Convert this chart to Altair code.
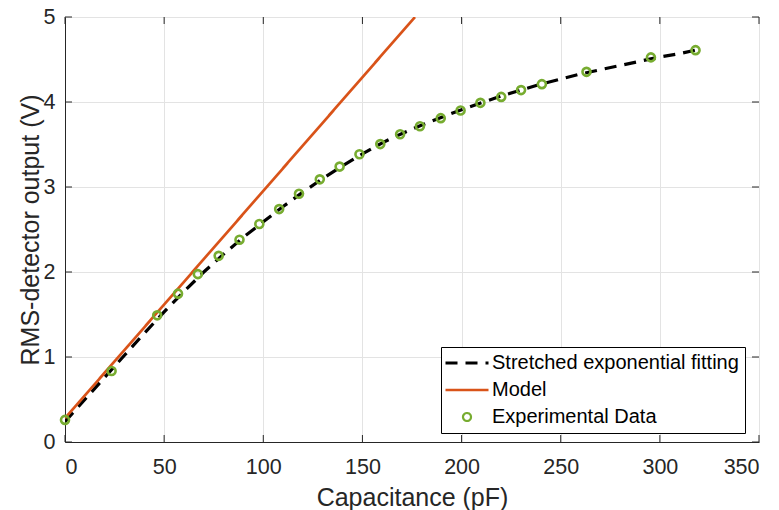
import altair as alt
import pandas as pd

# Experimental data
cap_data = [0, 23.5, 46.5, 57, 67, 77.5, 88, 98, 108, 118, 128.5, 138.5, 148.5, 159, 169,
            179, 189.5, 199.5, 209.5, 220, 230, 240.5, 263, 295.5, 318]
v_data = [0.26, 0.835, 1.49, 1.745, 1.975, 2.19, 2.38, 2.565, 2.74, 2.92, 3.09, 3.24, 3.385,
          3.505, 3.62, 3.715, 3.81, 3.90, 3.99, 4.06, 4.14, 4.21, 4.355, 4.525, 4.61]

# Stretched exponential fitting curve
cap_fit = [0, 10, 20, 30, 40, 50, 60, 70, 80, 90, 100, 110, 120, 130, 140, 150, 160, 170,
           180, 190, 200, 210, 220, 230, 240, 250, 260, 270, 280, 290, 300, 310, 318]
v_fit = [0.24, 0.50, 0.76, 1.02, 1.28, 1.53, 1.77, 2.00, 2.21, 2.41, 2.59, 2.77, 2.94, 3.10,
         3.25, 3.39, 3.52, 3.63, 3.73, 3.82, 3.91, 3.99, 4.07, 4.14, 4.21, 4.27, 4.33, 4.38,
         4.43, 4.48, 4.53, 4.57, 4.61]

# Model (linear)
cap_model = [0, 176.5]
v_model = [0.28, 5.0]

series_names = ["Stretched exponential fitting", "Model", "Experimental Data"]
series_colors = ["#000000", "#D95319", "#77AC30"]

x_ticks = [0, 50, 100, 150, 200, 250, 300, 350]
y_ticks = [0, 1, 2, 3, 4, 5]

W, H = 694, 425
FONT = "Liberation Sans"
AX = "#262626"
LINE_SYMBOL = "M-5.375,0H5.375"

lines_df = pd.concat([
    pd.DataFrame({"C": cap_fit, "V": v_fit, "series": series_names[0], "order": range(len(cap_fit))}),
    pd.DataFrame({"C": cap_model, "V": v_model, "series": series_names[1], "order": range(len(cap_model))}),
])
points_df = pd.DataFrame({"C": cap_data, "V": v_data, "series": series_names[2]})

xscale = alt.Scale(domain=[0, 350], nice=False, zero=False)
yscale = alt.Scale(domain=[0, 5], nice=False, zero=False)

x_axis = alt.Axis(values=x_ticks, title="Capacitance (pF)", grid=True, ticks=False,
                  format="d", labelPadding=31, labelBaseline="alphabetic", labelFontSize=21.5,
                  titleFontSize=25, titleFontWeight="normal", titleY=63,
                  titleBaseline="alphabetic", labelColor=AX, titleColor=AX,
                  domainColor=AX, gridColor="#e3e3e3", labelFont=FONT, titleFont=FONT)
y_axis = alt.Axis(values=y_ticks, title="RMS-detector output (V)", grid=True, ticks=False,
                  format="d", labelPadding=10, labelFontSize=21.5, titleFontSize=25,
                  titleFontWeight="normal", titleX=-27, titleY=H / 2, titleAngle=270,
                  titleBaseline="alphabetic", titleAlign="center", labelColor=AX,
                  titleColor=AX, domainColor=AX, gridColor="#e3e3e3", labelFont=FONT,
                  titleFont=FONT)

color_scale = alt.Scale(domain=series_names, range=series_colors)
legend = alt.Legend(title=None, orient="none", legendX=376, legendY=330, padding=6,
                    rowPadding=7, strokeColor="#000000", fillColor="#ffffff",
                    labelFontSize=20, labelFont=FONT, labelColor="#000000", labelOffset=15,
                    symbolOffset=10, symbolSize=64, symbolStrokeWidth=2.5, labelLimit=400)

lines = alt.Chart(lines_df).mark_line(clip=True).encode(
    x=alt.X("C:Q", scale=xscale, axis=x_axis),
    y=alt.Y("V:Q", scale=yscale, axis=y_axis),
    color=alt.Color("series:N", scale=color_scale, legend=legend),
    strokeDash=alt.StrokeDash("series:N", scale=alt.Scale(domain=series_names,
                              range=[[12, 8], [1, 0], [1, 0]]), legend=legend),
    strokeWidth=alt.StrokeWidth("series:N", scale=alt.Scale(domain=series_names,
                                range=[3.2, 2.2, 2.2]), legend=None),
    order="order:Q",
)

points = alt.Chart(points_df).mark_point(filled=False, strokeWidth=2.6, size=64, opacity=1).encode(
    x=alt.X("C:Q", scale=xscale),
    y=alt.Y("V:Q", scale=yscale),
    color=alt.Color("series:N", scale=color_scale, legend=legend),
    shape=alt.Shape("series:N", scale=alt.Scale(domain=series_names,
                    range=[LINE_SYMBOL, LINE_SYMBOL, "circle"]), legend=legend),
)

tick_x_df = pd.DataFrame({"t": x_ticks})
tick_y_df = pd.DataFrame({"t": y_ticks})
tick_style = dict(color=AX, thickness=1, size=7, opacity=1)
ticks_bottom = alt.Chart(tick_x_df).mark_tick(orient="vertical", **tick_style).encode(
    x=alt.X("t:Q", scale=xscale), y=alt.value(H - 3.5))
ticks_top = alt.Chart(tick_x_df).mark_tick(orient="vertical", **tick_style).encode(
    x=alt.X("t:Q", scale=xscale), y=alt.value(3.5))
ticks_left = alt.Chart(tick_y_df).mark_tick(orient="horizontal", **tick_style).encode(
    y=alt.Y("t:Q", scale=yscale), x=alt.value(3.5))
ticks_right = alt.Chart(tick_y_df).mark_tick(orient="horizontal", **tick_style).encode(
    y=alt.Y("t:Q", scale=yscale), x=alt.value(W - 3.5))

chart = alt.layer(lines, points, ticks_bottom, ticks_top, ticks_left, ticks_right).properties(
    width=W, height=H,
    autosize=alt.AutoSizeParams(type="none"),
    padding={"left": 57, "top": 9, "right": 12, "bottom": 68},
).configure_view(stroke=AX, strokeWidth=1).configure(background="#ffffff")

chart.save("out.html", embed_options={"renderer": "svg", "actions": False})
